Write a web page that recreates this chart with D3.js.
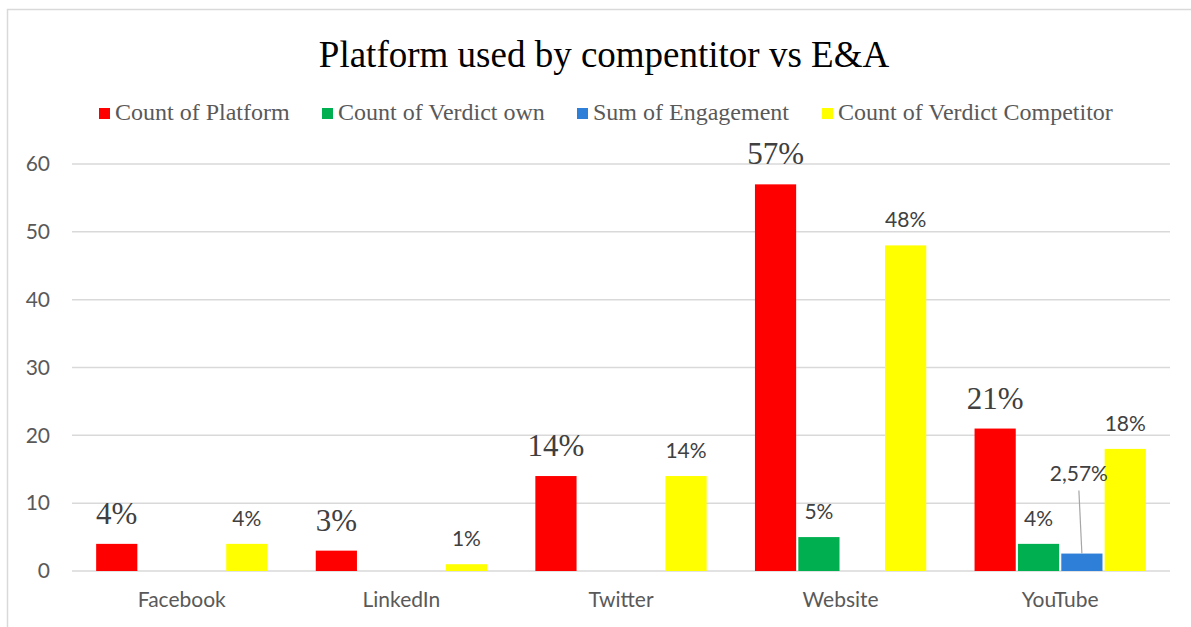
<!DOCTYPE html>
<html lang="en">
<head>
<meta charset="UTF-8">
<title>Platform used by compentitor vs E&amp;A</title>
<script src="https://cdnjs.cloudflare.com/ajax/libs/d3/7.8.5/d3.min.js"></script>
<style>
  body { margin: 0; background: #fff; }
  svg { display: block; }
</style>
</head>
<body>
<div id="chart"></div>
<script>
// data
var categories = ["Facebook", "LinkedIn", "Twitter", "Website", "YouTube"];
var seriesNames = ["Count of Platform", "Count of Verdict own", "Sum of Engagement", "Count of Verdict Competitor"];
var platform = [4, 3, 14, 57, 21];
var verdictOwn = [0, 0, 0, 5, 4];
var engagement = [0, 0, 0, 0, 2.57];
var verdictComp = [4, 1, 14, 48, 18];
var platformLabels = ["4%", "3%", "14%", "57%", "21%"];
var ownLabels = ["", "", "", "5%", "4%"];
var engagementLabels = ["", "", "", "", "2,57%"];
var compLabels = ["4%", "1%", "14%", "48%", "18%"];
var yTicks = [0, 10, 20, 30, 40, 50, 60];

var colors = ["#FF0000", "#00B050", "#2E7FD8", "#FFFF00"];
var W = 1191, H = 627;
var serifFont = "'Liberation Serif', 'Times New Roman', serif";
var sans = "Lato, 'Open Sans', sans-serif";

var svg = d3.select("#chart").append("svg")
  .attr("width", W).attr("height", H);

// chart border (only top/left visible in the shot)
svg.append("rect")
  .attr("x", 7.5).attr("y", 9.5)
  .attr("width", W + 20).attr("height", H + 20)
  .attr("fill", "none").attr("stroke", "#d9d9d9").attr("stroke-width", 1.5);

svg.append("text")
  .attr("x", 604).attr("y", 67)
  .attr("text-anchor", "middle")
  .attr("font-family", serifFont)
  .attr("font-size", 37)
  .attr("fill", "#000")
  .text("Platform used by compentitor vs E&A");

// legend
var legendX = [99, 322, 577, 822];
var legend = svg.selectAll("g.legend").data(seriesNames).enter()
  .append("g").attr("class", "legend")
  .attr("transform", function(d, i) { return "translate(" + legendX[i] + ",0)"; });
legend.append("rect")
  .attr("x", 0).attr("y", 108).attr("width", 11).attr("height", 11)
  .attr("fill", function(d, i) { return colors[i]; });
legend.append("text")
  .attr("x", 16).attr("y", 120)
  .attr("font-family", serifFont)
  .attr("font-size", 24)
  .attr("fill", "#595959")
  .text(function(d) { return d; });

// scales
var x0 = d3.scaleBand().domain(categories).range([72, 1170])
  .paddingInner(0.22).paddingOuter(0.11);
var x1 = d3.scaleBand().domain(d3.range(4)).range([0, x0.bandwidth()])
  .paddingInner(0.05);
var y = d3.scaleLinear().domain([0, 60]).range([571, 164]);

// gridlines
svg.append("g").selectAll("line").data(yTicks).enter().append("line")
  .attr("x1", 72).attr("x2", 1170)
  .attr("y1", function(d) { return y(d); }).attr("y2", function(d) { return y(d); })
  .attr("stroke", "#d9d9d9").attr("stroke-width", 1.5);

// y axis labels
var yAxis = svg.append("g").attr("transform", "translate(50,0)")
  .call(d3.axisLeft(y).tickValues(yTicks).tickSize(0).tickPadding(0));
yAxis.select(".domain").remove();
yAxis.selectAll("text")
  .attr("font-family", sans).attr("font-size", 21).attr("fill", "#595959");

// x axis labels
var xAxis = svg.append("g").attr("transform", "translate(0,571)")
  .call(d3.axisBottom(x0).tickSize(0).tickPadding(21));
xAxis.select(".domain").remove();
xAxis.selectAll("text")
  .attr("font-family", sans).attr("font-size", 21).attr("fill", "#595959");

var table = categories.map(function(c, i) {
  return { cat: c, vals: [platform[i], verdictOwn[i], engagement[i], verdictComp[i]],
           labels: [platformLabels[i], ownLabels[i], engagementLabels[i], compLabels[i]] };
});

var groups = svg.selectAll("g.grp").data(table).enter().append("g")
  .attr("class", "grp")
  .attr("transform", function(d) { return "translate(" + x0(d.cat) + ",0)"; });

groups.selectAll("rect").data(function(d) { return d.vals; }).enter().append("rect")
  .attr("x", function(d, i) { return x1(i); })
  .attr("width", x1.bandwidth())
  .attr("y", function(d) { return y(d); })
  .attr("height", function(d) { return y(0) - y(d); })
  .attr("fill", function(d, i) { return colors[i]; });

// data labels
groups.each(function(d) {
  var g = d3.select(this);
  d.vals.forEach(function(v, i) {
    if (!d.labels[i]) return;
    var cx = x1(i) + x1.bandwidth() / 2;
    if (i === 2) {
      // engagement label sits higher with a leader line
      g.append("line")
        .attr("x1", cx - 3).attr("y1", y(v) - 63)
        .attr("x2", cx).attr("y2", y(v))
        .attr("stroke", "#a6a6a6").attr("stroke-width", 1.2);
      g.append("text")
        .attr("x", cx - 3).attr("y", y(v) - 73)
        .attr("text-anchor", "middle")
        .attr("font-family", sans).attr("font-size", 21).attr("fill", "#404040")
        .text(d.labels[i]);
      return;
    }
    var isSerif = i === 0;
    g.append("text")
      .attr("x", cx).attr("y", y(v) - (isSerif ? 20 : 18))
      .attr("text-anchor", "middle")
      .attr("font-family", isSerif ? serifFont : sans)
      .attr("font-size", isSerif ? 31 : 21)
      .attr("fill", "#404040")
      .text(d.labels[i]);
  });
});
</script>
</body>
</html>
